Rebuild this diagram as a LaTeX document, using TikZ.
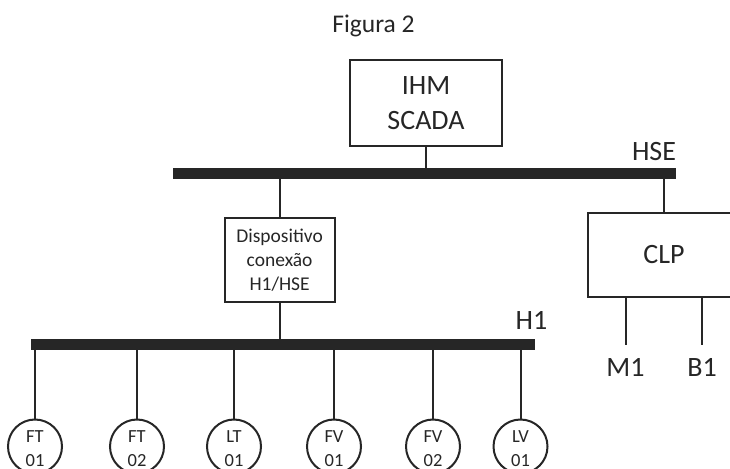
\documentclass[tikz,border=0pt]{standalone}
\usepackage{fontspec}
\setmainfont{Carlito}
\definecolor{ink}{HTML}{262626}
\begin{document}
\begin{tikzpicture}[x=1bp,y=-1bp,
  ln/.style={draw=ink,line width=2bp},
  bus/.style={draw=ink,line width=10.5bp},
  box/.style={draw=ink,line width=2bp,inner sep=0pt,align=center,text=ink},
  lbl/.style={inner sep=0pt,text=ink,font=\fontsize{28bp}{34bp}\selectfont},
  dev/.style={circle,draw=ink,line width=2bp,minimum size=54bp,inner sep=0pt},
  devtxt/.style={inner sep=0pt,align=center,text=ink,yshift=-2bp,font=\fontsize{18.5bp}{24.5bp}\selectfont}]
\clip (0,0) rectangle (730,469);
% title
\node[anchor=base,inner sep=0pt,text=ink,font=\fontsize{25.5bp}{30bp}\selectfont] (title) at (373.5,32.3) {Figura 2};
% IHM
\node[box,minimum width=152bp,minimum height=86bp,font=\fontsize{28bp}{35bp}\selectfont] (ihm) at (426,103) {IHM\\SCADA};
% HSE bus
\coordinate (hseL) at (173,173.3);
\coordinate (hseR) at (676,173.3);
\draw[bus] (hseL) -- (hseR);
\node[lbl] (hse) at (654,152) {HSE};
% device boxes
\node[box,minimum width=110bp,minimum height=84bp,font=\fontsize{19.5bp}{24bp}\selectfont] (disp) at (279.6,259.7) {Dispositivo\\conexão\\H1/HSE};
\node[box,minimum width=152bp,minimum height=84bp,font=\fontsize{28bp}{34bp}\selectfont] (clp) at (664,254.7) {CLP};
\draw[ln] (ihm.south) -- (ihm.south |- hseL);
\draw[ln] (disp.north |- hseL) -- (disp.north);
\draw[ln] (clp.north |- hseL) -- (clp.north);
% H1 bus
\coordinate (h1L) at (31,344.4);
\coordinate (h1R) at (535,344.4);
\draw[bus] (h1L) -- (h1R);
\node[lbl] (h1) at (531.5,320) {H1};
\draw[ln] (disp.south) -- (disp.south |- h1L);
% field devices
\foreach \d/\x/\a/\b in {ft1/35/FT/01,ft2/137/FT/02,lt1/234/LT/01,fv1/334/FV/01,fv2/433/FV/02,lv1/520.5/LV/01}{
  \node[dev] (\d) at (\x,446.5) {};
  \node[devtxt] (\d-txt) at (\d.center) {\a\\\b};
  \draw[ln] (\d.north |- h1L) -- (\d.north);
}
% CLP outputs
\coordinate (m1e) at (625.5,345);
\coordinate (b1e) at (702,345);
\draw[ln] (m1e |- clp.south) -- (m1e);
\draw[ln] (b1e |- clp.south) -- (b1e);
\node[lbl] (m1) at (625.5,367) {M1};
\node[lbl] (b1) at (702,367) {B1};
\end{tikzpicture}
\end{document}
